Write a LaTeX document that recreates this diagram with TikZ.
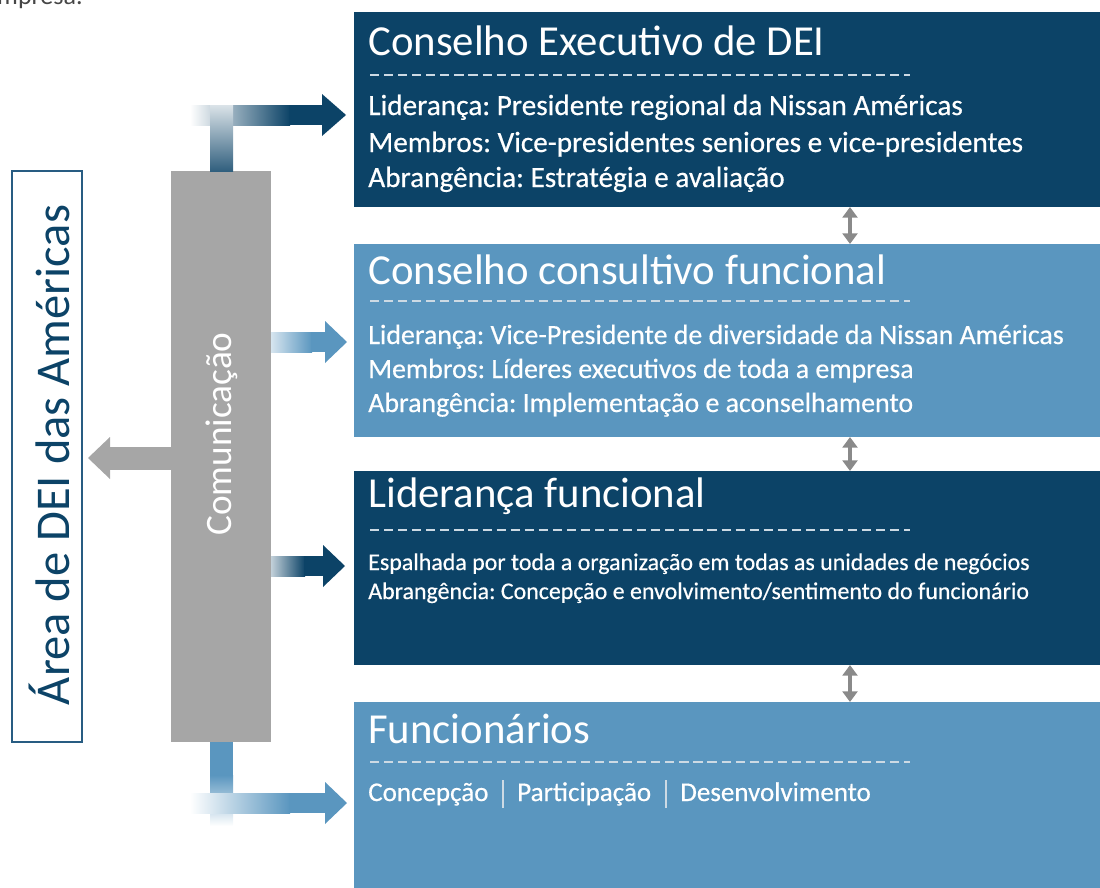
\documentclass[tikz,border=0pt]{standalone}
\usepackage{fontspec}
\setmainfont{Carlito}
\newfontfamily\semib[FakeBold=0.5]{Carlito}
\usetikzlibrary{arrows.meta}
\definecolor{navy}{RGB}{12,67,103}
\definecolor{lblue}{RGB}{90,150,191}
\definecolor{gbox}{RGB}{166,166,166}
\definecolor{dgray}{RGB}{138,138,138}
\definecolor{lframe}{RGB}{40,92,130}
\definecolor{ltxt}{RGB}{70,70,70}
\definecolor{dashc}{RGB}{205,218,228}
\begin{document}
\frenchspacing
\begin{tikzpicture}[x=0.025cm,y=-0.025cm,
  box/.style={rectangle, inner sep=0pt, outer sep=0pt, minimum width=18.65cm},
  ttl/.style={anchor=base west, inner sep=0pt, text=white, font=\fontsize{30.4}{32}\selectfont},
  bdy/.style={anchor=base west, inner sep=0pt, text=white, font=\semib\fontsize{20.8}{22}\selectfont},
  mbdy/.style={anchor=base west, inner sep=0pt, text=white, font=\semib\fontsize{19.8}{22}\selectfont},
  sbdy/.style={anchor=base west, inner sep=0pt, text=white, font=\semib\fontsize{17}{19}\selectfont},
  fbdy/.style={anchor=base west, inner sep=0pt, text=white, font=\semib\fontsize{19.2}{21}\selectfont},
  dsh/.style={dashc, line width=1pt, dash pattern=on 6.5pt off 3.5pt},
  dbl/.style={dgray, line width=3.5pt, {Triangle[width=10.5pt,length=7.5pt]}-{Triangle[width=10.5pt,length=7.5pt]}},
  sep/.style={dashc, line width=1pt}
]
\useasboundingbox (0,0) rectangle (1100,888);

% cut-off caption
\node[anchor=base west, inner sep=0pt, text=ltxt, font=\fontsize{18.5}{20}\selectfont] (cap) at (-16,4) {empresa.};

% boxes
\node[box, fill=navy,  minimum height=4.875cm] (b1) at (727,109.5) {};
\node[box, fill=lblue, minimum height=4.825cm] (b2) at (727,340.5) {};
\node[box, fill=navy,  minimum height=4.85cm]  (b3) at (727,568) {};
\node[box, fill=lblue, minimum height=4.65cm]  (b4) at (727,795) {};

% box 1
\node[ttl] (t1) at (368,55) {Conselho Executivo de DEI};
\draw[dsh] (370,75) -- (910,75);
\node[bdy] (l11) at (368,115) {Liderança: Presidente regional da Nissan Américas};
\node[bdy] (l12) at (368,152) {Membros: Vice-presidentes seniores e vice-presidentes};
\node[bdy] (l13) at (368,187) {Abrangência: Estratégia e avaliação};

% box 2
\node[ttl] (t2) at (368,284) {Conselho consultivo funcional};
\draw[dsh] (370,301) -- (910,301);
\node[mbdy] (l21) at (368,344) {Liderança: Vice-Presidente de diversidade da Nissan Américas};
\node[mbdy] (l22) at (368,378) {Membros: Líderes executivos de toda a empresa};
\node[mbdy] (l23) at (368,412) {Abrangência: Implementação e aconselhamento};

% box 3
\node[ttl] (t3) at (368,507) {Liderança funcional};
\draw[dsh] (370,530) -- (910,530);
\node[sbdy] (l31) at (368,570) {Espalhada por toda a organização em todas as unidades de negócios};
\node[sbdy] (l32) at (368,599) {Abrangência: Concepção e envolvimento/sentimento do funcionário};

% box 4
\node[ttl] (t4) at (368,743) {Funcionários};
\draw[dsh] (370,762) -- (910,762);
\node[fbdy] (l41) at (368,801) {Concepção};
\draw[sep] (503,780) -- (503,808);
\node[fbdy] (l42) at (517,801) {Participação};
\draw[sep] (666,780) -- (666,808);
\node[fbdy] (l43) at (680,801) {Desenvolvimento};

% double arrows between boxes
\coordinate (ax) at (850,0);
\draw[dbl] (b1.south -| ax) -- (b2.north -| ax);
\draw[dbl] (b2.south -| ax) -- (b3.north -| ax);
\draw[dbl] (b3.south -| ax) -- (b4.north -| ax);

% left frame
\node[draw=lframe, line width=1.1pt, minimum width=1.75cm, minimum height=14.275cm, inner sep=0pt] (area) at (47,456.5) {};
\node[rotate=90, text=navy, font=\fontsize{34.5}{36}\selectfont, inner sep=0pt] (areat) at (49,455) {Área de DEI das Américas};

% gray communication box
\node[fill=gbox, minimum width=2.5cm, minimum height=14.275cm, inner sep=0pt] (com) at (221,456.5) {};
\node[rotate=90, text=white, font=\fontsize{26.5}{28}\selectfont, inner sep=0pt] (comt) at (222,434) {Comunicação};

% gray arrow to the left
\fill[gbox] (com.west |- 0,447) rectangle (110,470);
\fill[gbox] (110,437) -- (88,458) -- (110,479) -- cycle;

% top arrow (navy)
\shade[left color=white, right color=navy] (190,105) rectangle (290,125);
\fill[navy] (289,105) rectangle (322,125);
\fill[navy] (322,94) -- (346,115) -- (322,136) -- cycle;
\shade[top color=navy!15, bottom color=navy!85] (210,105) rectangle (233,171);

% arrow 2 (light blue)
\shade[left color=lblue!25, right color=lblue] (271,332) rectangle (312,352);
\fill[lblue] (311,332) rectangle (325,352);
\fill[lblue] (325,321) -- (347,342) -- (325,363) -- cycle;

% arrow 3 (navy)
\shade[left color=navy!25, right color=navy] (271,556) rectangle (305,576);
\fill[navy] (304,556) rectangle (323,576);
\fill[navy] (323,545) -- (345,566) -- (323,587) -- cycle;

% bottom arrow (light blue)
\fill[lblue] (210,742) rectangle (233,776);
\shade[top color=lblue, bottom color=white] (210,775) rectangle (233,826);
\shade[left color=white, right color=lblue] (190,793) rectangle (290,813);
\fill[lblue] (289,793) rectangle (325,813);
\fill[lblue] (325,782) -- (347,803) -- (325,824) -- cycle;
\end{tikzpicture}
\end{document}
